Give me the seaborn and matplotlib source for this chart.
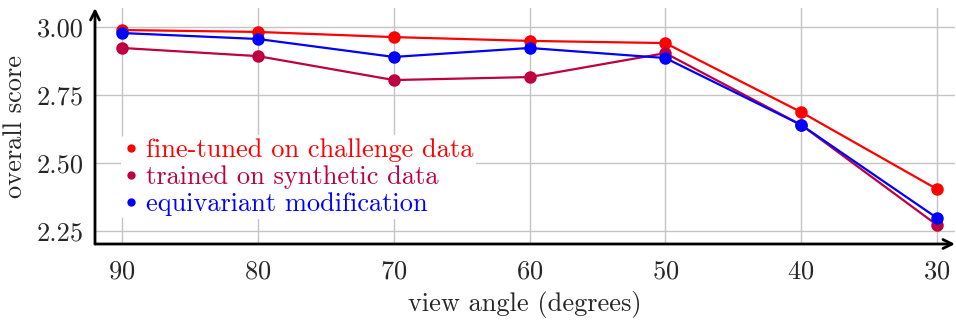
import pandas as pd
import seaborn as sns
import matplotlib.pyplot as plt
from matplotlib.lines import Line2D
from matplotlib.ticker import FormatStrFormatter


# Scores
angles = [90, 80, 70, 60, 50, 40, 30]
fine_tuned = [2.989, 2.982, 2.963, 2.949, 2.941, 2.687, 2.404]
synthetic = [2.923, 2.893, 2.805, 2.816, 2.904, 2.640, 2.272]
equivariant = [2.978, 2.956, 2.890, 2.923, 2.886, 2.640, 2.298]

series_names = ['fine-tuned on challenge data', 'trained on synthetic data', 'equivariant modification']
series_colors = ['#ff0000', '#bf0040', '#0000ff']
y_ticks = [2.25, 2.50, 2.75, 3.00]


# Long-form table for seaborn
df = pd.concat([
  pd.DataFrame({'angle': angles, 'score': vals, 'model': name})
  for name, vals in zip(series_names, [fine_tuned, synthetic, equivariant])
])

sns.set_style('white')
plt.rcParams['font.family'] = ['cmr10', 'DejaVu Serif']
plt.rcParams['mathtext.fontset'] = 'cm'
plt.rcParams['axes.formatter.use_mathtext'] = True

fig = plt.figure(figsize=(9.56, 3.23), dpi=100)
ax = fig.add_axes([95/956, 79/323, 860/956, 236/323])

sns.lineplot(data=df, x='angle', y='score', hue='model', palette=series_colors,
             marker='o', markersize=9, markeredgewidth=0, linewidth=1.6,
             ax=ax, legend=False, zorder=3)

ax.set_xlim(92, 28.67)
ax.set_ylim(2.202, 3.07)
ax.set_xticks(angles)
ax.set_yticks(y_ticks)
ax.yaxis.set_major_formatter(FormatStrFormatter('%.2f'))
ax.grid(True, color='#c4c4c4', linewidth=1)
ax.set_axisbelow(True)
ax.tick_params(axis='both', labelsize=19, length=6, direction='inout',
               color='#c4c4c4', width=1, pad=5)
ax.tick_params(axis='x', pad=8)

for s in ['top', 'right', 'left', 'bottom']:
  ax.spines[s].set_visible(False)

# Axis lines with arrow tips
ax.annotate('', xy=(1, 0), xytext=(0, 0), xycoords='axes fraction',
            arrowprops=dict(arrowstyle='->', lw=2, color='black', shrinkA=0, shrinkB=0,
                            mutation_scale=16))
ax.annotate('', xy=(0, 1), xytext=(0, 0), xycoords='axes fraction',
            arrowprops=dict(arrowstyle='->', lw=2, color='black', shrinkA=0, shrinkB=0,
                            mutation_scale=16))

ax.set_xlabel('view angle (degrees)', fontsize=19, labelpad=6)
ax.set_ylabel('overall score', fontsize=19, labelpad=7)

handles = [Line2D([], [], linestyle='none', marker='o', markersize=6, markeredgewidth=0, color=c)
           for c in series_colors]
leg = ax.legend(handles, series_names, loc='upper left', bbox_to_anchor=(0.03, 0.46),
                frameon=True, fontsize=19, handlelength=0.55, handletextpad=0.3,
                labelspacing=0.13, borderpad=0.1, borderaxespad=0)
leg.get_frame().set_edgecolor('none')
leg.get_frame().set_facecolor('white')
leg.get_frame().set_alpha(1)
for txt, c in zip(leg.get_texts(), series_colors):
  txt.set_color(c)

plt.savefig('out.png', dpi=100)
